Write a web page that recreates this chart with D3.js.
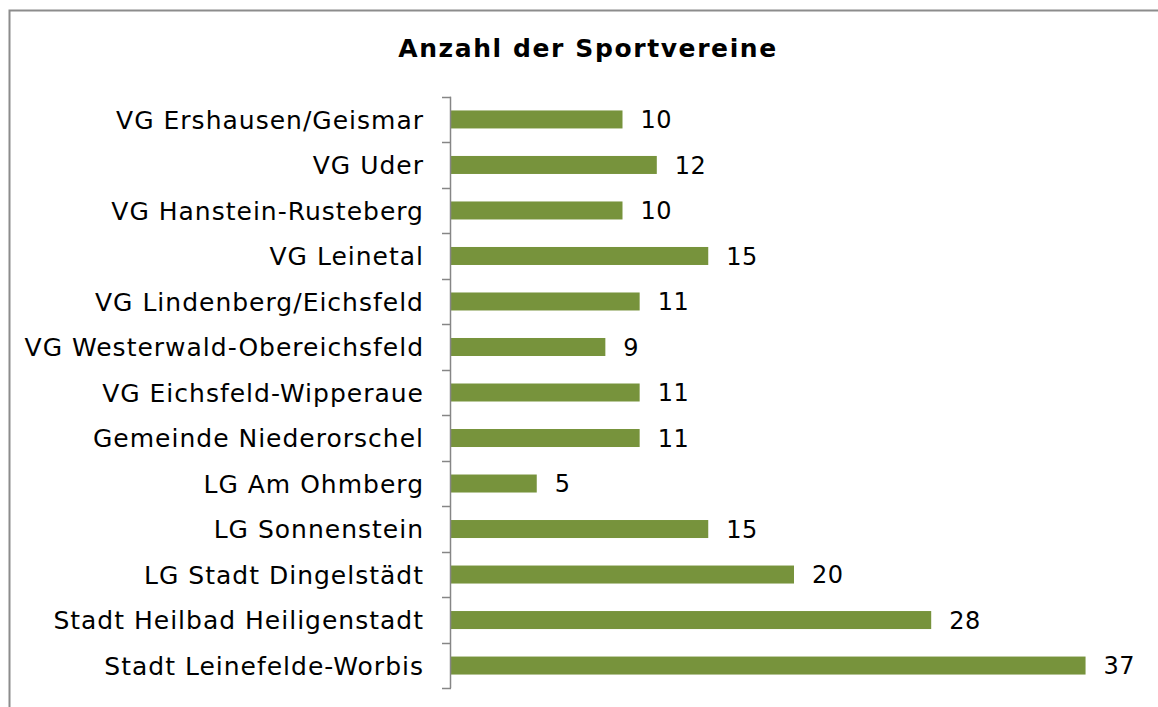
<!DOCTYPE html>
<html>
<head>
<meta charset="utf-8">
<script src="https://cdn.jsdelivr.net/npm/d3@7"></script>
<style>
  body { margin: 0; background: #fff; }
  svg { display: block; font-family: "DejaVu Sans", Verdana, sans-serif; }
</style>
</head>
<body>
<div id="chart"></div>
<script>
// categories top -> bottom and number of clubs
let categories = [
    'VG Ershausen/Geismar',
    'VG Uder',
    'VG Hanstein-Rusteberg',
    'VG Leinetal',
    'VG Lindenberg/Eichsfeld',
    'VG Westerwald-Obereichsfeld',
    'VG Eichsfeld-Wipperaue',
    'Gemeinde Niederorschel',
    'LG Am Ohmberg',
    'LG Sonnenstein',
    'LG Stadt Dingelstädt',
    'Stadt Heilbad Heiligenstadt',
    'Stadt Leinefelde-Worbis'
];
let values = [10, 12, 10, 15, 11, 9, 11, 11, 5, 15, 20, 28, 37];
let title = 'Anzahl der Sportvereine';

let width = 1158, height = 707;
let barH = 18;

let data = categories.map((c, i) => ({ name: c, value: values[i] }));

let svg = d3.select('#chart')
    .append('svg')
    .attr('width', width)
    .attr('height', height);

// chart border (runs off the right and bottom edge)
svg.append('rect')
    .attr('x', 9.5)
    .attr('y', 10.5)
    .attr('width', 1170)
    .attr('height', 720)
    .attr('fill', 'none')
    .attr('stroke', '#8c8c8c')
    .attr('stroke-width', 2);

svg.append('text')
    .attr('x', 588)
    .attr('y', 57)
    .attr('text-anchor', 'middle')
    .attr('font-size', 25)
    .attr('font-weight', 'bold')
    .attr('letter-spacing', 1.6)
    .text(title);

let x = d3.scaleLinear()
    .domain([0, 40])
    .range([451, 1137]);

let y = d3.scaleBand()
    .domain(categories)
    .range([96.7, 688.3])
    .padding(0);

// bars
svg.append('g')
    .attr('id', 'barG')
    .selectAll('rect')
    .data(data)
    .join('rect')
    .attr('x', x(0))
    .attr('y', d => y(d.name) + y.bandwidth() / 2 - barH / 2)
    .attr('width', d => x(d.value) - x(0))
    .attr('height', barH)
    .attr('fill', '#77933C');

// value labels
svg.append('g')
    .selectAll('text')
    .data(data)
    .join('text')
    .attr('x', d => x(d.value) + 18)
    .attr('y', d => y(d.name) + y.bandwidth() / 2)
    .attr('dy', '0.37em')
    .attr('font-size', 24)
    .attr('letter-spacing', 0.5)
    .attr('fill', '#000')
    .text(d => d.value);

// category axis, ticks sit between the categories
let boundaries = categories.map(c => y(c)).concat([y.range()[1]]);
let axisG = svg.append('g').attr('id', 'axisG');
axisG.append('line')
    .attr('x1', 450.5).attr('x2', 450.5)
    .attr('y1', y.range()[0]).attr('y2', y.range()[1])
    .attr('stroke', '#868686')
    .attr('stroke-width', 1.5);
axisG.selectAll('line.tick')
    .data(boundaries)
    .join('line')
    .attr('class', 'tick')
    .attr('x1', 442).attr('x2', 451)
    .attr('y1', d => Math.round(d) + 0.5)
    .attr('y2', d => Math.round(d) + 0.5)
    .attr('stroke', '#868686')
    .attr('stroke-width', 1.5);
axisG.selectAll('text')
    .data(categories)
    .join('text')
    .attr('x', 424)
    .attr('y', d => y(d) + y.bandwidth() / 2)
    .attr('dy', '0.37em')
    .attr('text-anchor', 'end')
    .attr('font-size', 25)
    .attr('letter-spacing', 1)
    .text(d => d);
</script>
</body>
</html>
